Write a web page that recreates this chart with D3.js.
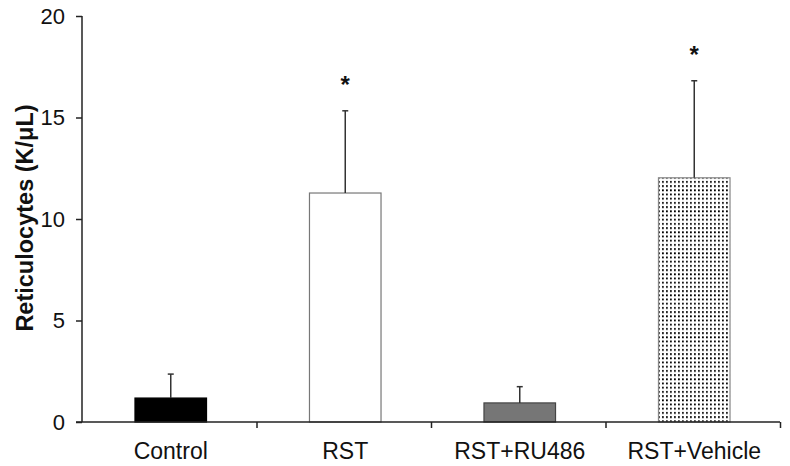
<!DOCTYPE html>
<html>
<head>
<meta charset="utf-8">
<script src="https://cdn.jsdelivr.net/npm/d3@7"></script>
<style>
  html, body { margin: 0; padding: 0; background: #fff; }
  svg { display: block; font-family: "Liberation Sans", Arial, sans-serif; }
</style>
</head>
<body>
<svg id="chart" width="790" height="466"></svg>
<script>
const categories = ["Control", "RST", "RST+RU486", "RST+Vehicle"];
const means = [1.18, 11.28, 0.94, 12.03];
const errors = [1.18, 4.05, 0.80, 4.78];
const significant = [false, true, false, true];
const yTicks = [0, 5, 10, 15, 20];
const yLabel = "Reticulocytes (K/\u03BCL)";

const svg = d3.select("#chart");
const x0 = 82, x1 = 780, yBottom = 422, yTop = 16;

const x = d3.scaleBand().domain(categories).range([x0, x1])
  .paddingInner(0.59).paddingOuter(0.295);
const xb = d3.scaleLinear().domain([0, categories.length]).range([x0, x1]);
const y = d3.scaleLinear().domain([0, 20]).range([yBottom, yTop]);

// pattern
const defs = svg.append("defs");
const pat = defs.append("pattern").attr("id", "dots")
  .attr("patternUnits", "userSpaceOnUse")
  .attr("width", 4).attr("height", 4.2)
  .attr("x", 661).attr("y", 180);
pat.append("rect").attr("width", 4).attr("height", 4.2).attr("fill", "#fff");
pat.append("rect").attr("x", 1).attr("y", 1).attr("width", 1.8).attr("height", 1.8).attr("fill", "#000");

const fills = ["#000", "#fff", "#767676", "url(#dots)"];
const strokes = ["#000", "#777", "#444", "#888"];
const shift = 1.5;

// bars
svg.append("g").selectAll("rect").data(categories).join("rect")
  .attr("x", d => x(d) + shift)
  .attr("y", (d, i) => y(means[i]))
  .attr("width", x.bandwidth())
  .attr("height", (d, i) => y(0) - y(means[i]))
  .attr("fill", (d, i) => fills[i])
  .attr("stroke", (d, i) => strokes[i])
  .attr("stroke-width", 1.2);

// error bars
const eb = svg.append("g").attr("stroke", "#333").attr("stroke-width", 1.5);
categories.forEach((c, i) => {
  const cx = x(c) + shift + x.bandwidth() / 2;
  eb.append("line").attr("x1", cx).attr("x2", cx)
    .attr("y1", y(means[i])).attr("y2", y(means[i] + errors[i]));
  eb.append("line").attr("x1", cx - 3).attr("x2", cx + 3)
    .attr("y1", y(means[i] + errors[i])).attr("y2", y(means[i] + errors[i]));
  if (significant[i]) {
    svg.append("text").attr("x", cx).attr("y", y(means[i] + errors[i]) - 18)
      .attr("text-anchor", "middle").attr("font-size", 24).attr("font-weight", "bold")
      .attr("fill", "#111").text("*");
  }
});

// y axis
const yAxis = svg.append("g").attr("transform", `translate(${x0},0)`)
  .call(d3.axisLeft(y).tickValues(yTicks).tickSize(6).tickPadding(11).tickFormat(d3.format("d")));
yAxis.select(".domain").attr("stroke", "#222").attr("stroke-width", 1.5).attr("d", `M0,${yTop}V${yBottom}`);
yAxis.selectAll(".tick line").attr("stroke", "#222").attr("stroke-width", 1.5);
yAxis.selectAll(".tick text").attr("font-size", 22).attr("fill", "#111")
  .attr("font-family", "Liberation Sans, Arial, sans-serif");

// x axis
const xAxis = svg.append("g").attr("transform", `translate(0,${yBottom})`)
  .call(d3.axisBottom(xb).tickValues(d3.range(1, categories.length + 1)).tickSize(6).tickFormat(""));
xAxis.select(".domain").attr("stroke", "#222").attr("stroke-width", 1.5).attr("d", `M${x0 - 6},0H${x1}`);
xAxis.selectAll(".tick line").attr("stroke", "#222").attr("stroke-width", 1.5);

svg.append("g").selectAll("text").data(categories).join("text")
  .attr("x", d => x(d) + shift + x.bandwidth() / 2)
  .attr("y", 459)
  .attr("text-anchor", "middle")
  .attr("font-size", 23)
  .attr("fill", "#111")
  .text(d => d);

// y label
svg.append("text")
  .attr("transform", `translate(33,218) rotate(-90)`)
  .attr("text-anchor", "middle")
  .attr("font-size", 23.5).attr("font-weight", "bold").attr("fill", "#111")
  .text(yLabel);
</script>
</body>
</html>
